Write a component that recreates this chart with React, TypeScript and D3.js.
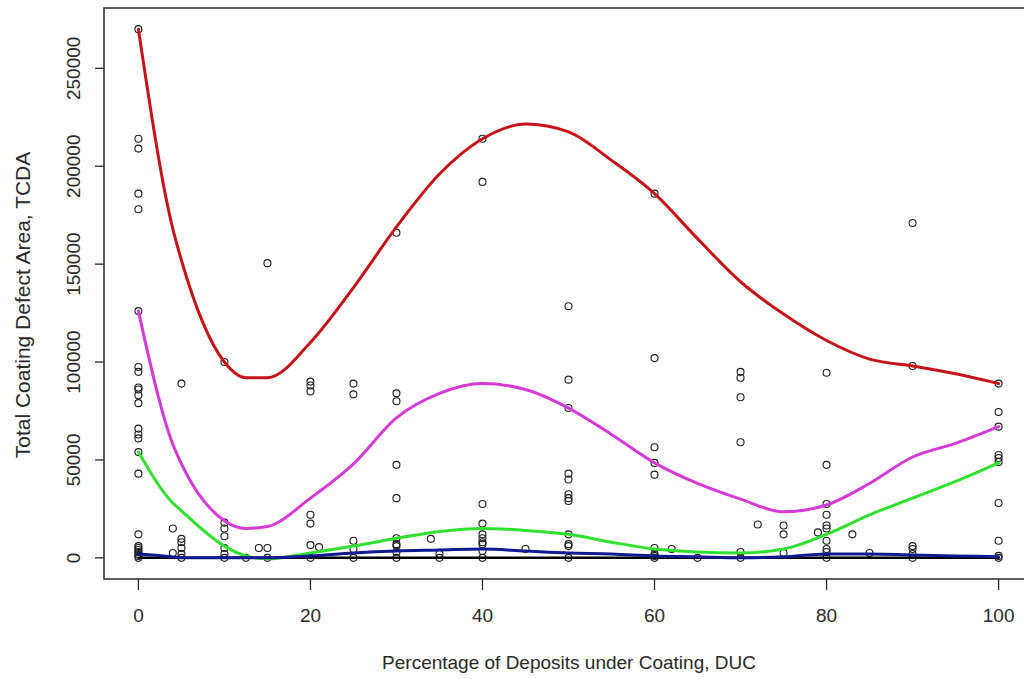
import React from "react";
import { scaleLinear, line, curveMonotoneX } from "d3";

// scatter points: deposits under coating (%) and total coating defect area
const duc = [
  0, 0, 0, 0, 0, 0, 0, 0, 0, 0, 0, 0, 0, 0, 0, 0, 0, 0, 0, 0, 0, 0, 0, 0, 0,
  4, 4,
  5, 5, 5, 5, 5, 5,
  10, 10, 10, 10, 10, 10, 10,
  12.5, 14,
  15, 15, 15,
  20, 20, 20, 20, 20, 20, 20,
  21,
  25, 25, 25, 25, 25,
  30, 30, 30, 30, 30, 30, 30, 30, 30, 30,
  34, 35, 35,
  40, 40, 40, 40, 40, 40, 40, 40, 40, 40,
  45,
  50, 50, 50, 50, 50, 50, 50, 50, 50, 50, 50, 50,
  60, 60, 60, 60, 60, 60, 60, 60, 60,
  62, 65,
  70, 70, 70, 70, 70, 70,
  72, 75, 75, 75, 79,
  80, 80, 80, 80, 80, 80, 80, 80, 80, 80,
  83, 85,
  90, 90, 90, 90, 90, 90,
  100, 100, 100, 100, 100, 100, 100, 100, 100, 100,
];
const tcda = [
  270000, 214000, 209000, 186000, 178000, 126000, 97500, 95000, 87000, 86000, 83000, 79000, 66000,
  63000, 61000, 54000, 43000, 12000, 6000, 5000, 4000, 3000, 2000, 1000, 0,
  15000, 2500,
  89000, 9700, 8000, 5000, 2000, 0,
  100000, 18000, 15000, 11000, 5000, 2000, 0,
  0, 5000,
  150500, 5000, 0,
  90000, 88000, 85000, 22000, 17500, 6500, 0,
  5500,
  89000, 83500, 8700, 4500, 0,
  166000, 84000, 80000, 47500, 30500, 10000, 7000, 6000, 3000, 0,
  9700, 2000, 0,
  214000, 192000, 27500, 17500, 12000, 10000, 8000, 7000, 3500, 0,
  4500,
  128500, 91000, 76500, 43000, 40000, 32500, 30500, 29000, 12000, 7000, 6000, 0,
  186000, 102000, 56500, 48500, 42500, 5000, 2000, 1000, 0,
  4500, 0,
  95000, 92000, 82000, 59000, 3000, 0,
  17000, 16500, 12000, 2500, 13000,
  94500, 47500, 27500, 22000, 16500, 15000, 8700, 4500, 3000, 0,
  12000, 2500,
  171000, 98000, 6000, 4500, 2000, 0,
  89000, 74500, 67000, 52500, 51000, 49000, 28000, 8700, 1000, 0,
];

// fitted curves, evaluated at these knots
const knots = [0, 4, 5, 10, 12.5, 15, 20, 25, 30, 35, 40, 45, 50, 55, 60, 65, 70, 75, 80, 85, 90, 95, 100];
const redFit = [270000, 168000, 152000, 100000, 92000, 92000, 110000, 138000, 169000, 196000, 214000, 221500, 217500, 203000, 186000, 163000, 141000, 124500, 111000, 101500, 98000, 94000, 89000];
const magentaFit = [126000, 58000, 48000, 19000, 15000, 16000, 30500, 48000, 71500, 84000, 89000, 86000, 76500, 63000, 48500, 38000, 30000, 23500, 27000, 38000, 51500, 58500, 67000];
const greenFit = [54000, 28000, 24000, 6000, 1000, -500, 2500, 6000, 10000, 13500, 15000, 14000, 12000, 8000, 4500, 3000, 2500, 4500, 12000, 22000, 30500, 39000, 48500];
const blackFit = [0, 0, 0, 0, 0, 0, 0, 0, 0, 0, 0, 0, 0, 0, 0, 0, 0, 0, 0, 0, 0, 0, 0];
const blueFit = [2000, 500, 0, 0, 0, 0, 1000, 2500, 3500, 4000, 4500, 3500, 2500, 2000, 1000, 500, 0, 500, 2000, 2000, 1500, 1000, 500];

const xTicks = [0, 20, 40, 60, 80, 100];
const yTicks = [0, 50000, 100000, 150000, 200000, 250000];

const fits = [
  { name: "red", values: redFit, color: "#c4141a", width: 3 },
  { name: "magenta", values: magentaFit, color: "#d43ad4", width: 3 },
  { name: "green", values: greenFit, color: "#2fe02f", width: 3 },
  { name: "black", values: blackFit, color: "#000000", width: 2.5 },
  { name: "blue", values: blueFit, color: "#12188f", width: 3 },
];

const width = 1024;
const height = 679;
const plot = { left: 104, top: 8, right: 1033, bottom: 579 };
const font = "'Liberation Sans', Arial, sans-serif";
const ink = "#2a2a2a";

export default function App() {
  const x = scaleLinear().domain([-4, 104]).range([plot.left, plot.right]);
  const y = scaleLinear().domain([-10800, 280800]).range([plot.bottom, plot.top]);

  const path = line<number>()
    .x((_, i) => x(knots[i]))
    .y((d) => y(d))
    .curve(curveMonotoneX);

  return (
    <svg
      width={width}
      height={height}
      style={{ position: "absolute", left: 0, top: 0, background: "#fff" }}
      fontFamily={font}
    >
      <rect x={0} y={0} width={width} height={height} fill="#fff" />

      {/* plot box */}
      <rect
        x={plot.left}
        y={plot.top}
        width={plot.right - plot.left}
        height={plot.bottom - plot.top}
        fill="none"
        stroke={ink}
        strokeWidth={1.5}
      />

      {/* x axis */}
      {xTicks.map((t) => (
        <g key={t} transform={`translate(${x(t)}, 0)`}>
          <line y1={plot.bottom} y2={plot.bottom + 11} stroke={ink} strokeWidth={1.3} />
          <text y={622} textAnchor="middle" fontSize={19} fill={ink}>
            {t}
          </text>
        </g>
      ))}

      {/* y axis */}
      {yTicks.map((t) => (
        <g key={t} transform={`translate(0, ${y(t)})`}>
          <line x1={plot.left - 9} x2={plot.left} stroke={ink} strokeWidth={1.3} />
          <text transform="translate(80, 0) rotate(-90)" textAnchor="middle" fontSize={19} fill={ink}>
            {t}
          </text>
        </g>
      ))}

      <text x={569} y={669} textAnchor="middle" fontSize={19} fill={ink}>
        Percentage of Deposits under Coating, DUC
      </text>
      <text transform="translate(30, 305) rotate(-90)" textAnchor="middle" fontSize={21} fill={ink}>
        Total Coating Defect Area, TCDA
      </text>

      {/* points */}
      {duc.map((d, i) => (
        <circle key={i} cx={x(d)} cy={y(tcda[i])} r={3.5} fill="none" stroke="#1e1e1e" strokeWidth={1.1} />
      ))}

      {/* fitted curves */}
      {fits.map((f) => (
        <path
          key={f.name}
          d={path(f.values) || ""}
          fill="none"
          stroke={f.color}
          strokeWidth={f.width}
          strokeLinejoin="round"
          strokeLinecap="round"
        />
      ))}
    </svg>
  );
}
